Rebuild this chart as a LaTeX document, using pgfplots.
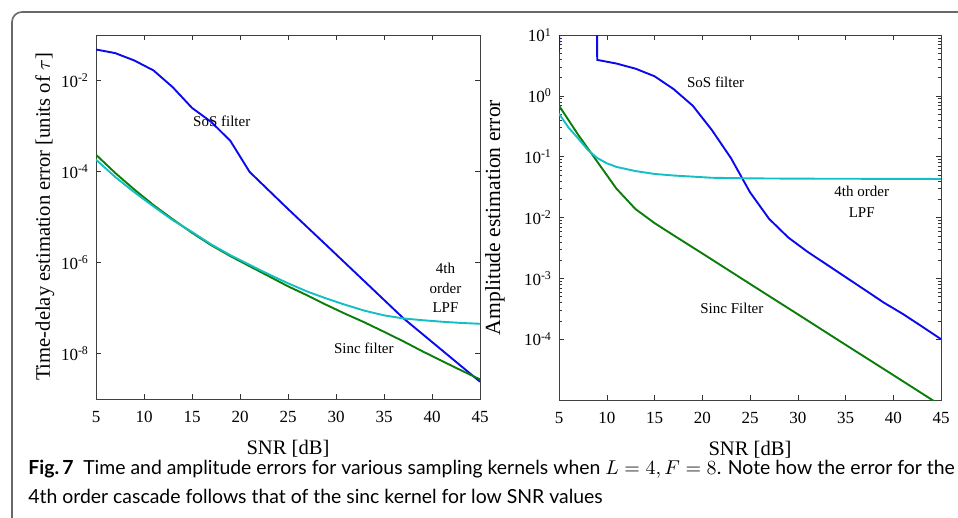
\documentclass[border=0pt]{standalone}
\usepackage{fontspec}
\setmainfont{Liberation Serif}
\newfontfamily\capfont{Lato}
\usepackage{pgfplots}
\pgfplotsset{compat=1.18}
\definecolor{sosblue}{RGB}{10,10,235}
\definecolor{sincgreen}{RGB}{10,125,10}
\definecolor{lpfcyan}{RGB}{20,190,195}
\definecolor{framegray}{RGB}{105,105,105}

\pgfplotsset{
  kernelaxis/.style={
    scale only axis,
    anchor=south west,
    xmin=5, xmax=45,
    xtick={5,10,...,45},
    xticklabel style={/pgf/number format/assume math mode=true, yshift=-2.5pt},
    tick label style={font=\fontsize{8.5}{10}\selectfont},
    label style={font=\fontsize{10.3}{12}\selectfont},
    xlabel={SNR [dB]},
    xlabel style={at={(axis description cs:0.5,0)}, yshift=-25pt, anchor=center, inner sep=0.5pt},
    major tick length=2.5pt,
    minor tick length=1.4pt,
    tick style={black!80},
    axis line style={black!75, line width=0.5pt},
    every axis plot/.append style={line width=0.95pt, no marks},
  }
}

\begin{document}
\begin{tikzpicture}
\useasboundingbox (0,0) rectangle (479pt,-259pt);
\draw[framegray, line width=0.8pt, rounded corners=5pt] (6pt,-262pt) -- (6pt,-6pt) -- (482pt,-6pt);

% left: time-delay error
\begin{axis}[kernelaxis,
  at={(48pt,-199.5pt)},
  width=192pt, height=182pt,
  ymode=log, ymin=1e-9, ymax=1e-1,
  ytick={1e-8,1e-6,1e-4,1e-2},
  yticklabels={10\textsuperscript{-8},10\textsuperscript{-6},10\textsuperscript{-4},10\textsuperscript{-2}},
  yminorticks=false,
  ylabel={Time-delay estimation error [units of $\tau$]},
  ylabel style={at={(axis description cs:-0.133,0.5)}, anchor=center},
]
\addplot[sosblue] coordinates {
(5,4.8e-2) (7,4.0e-2) (9,2.75e-2) (11,1.66e-2) (13,7.1e-3) (15,2.5e-3)
(17,1.23e-3) (19,4.7e-4) (21,9.8e-5) (25,1.5e-5) (29,2.4e-6) (33,3.8e-7)
(37,6.0e-8) (41,1.2e-8) (45,2.4e-9)};
\addplot[sincgreen] coordinates {
(5,2.34e-4) (7,9.3e-5) (9,4.0e-5) (11,1.82e-5) (13,8.9e-6) (15,4.5e-6)
(17,2.4e-6) (19,1.38e-6) (21,8.3e-7) (23,5.0e-7) (25,3.0e-7) (27,1.9e-7)
(29,1.17e-7) (31,7.4e-8) (33,4.8e-8) (35,3.0e-8) (37,1.86e-8) (39,1.12e-8)
(41,6.9e-9) (43,4.3e-9) (45,2.7e-9)};
\addplot[lpfcyan] coordinates {
(5,1.82e-4) (7,7.6e-5) (9,3.5e-5) (11,1.7e-5) (13,8.5e-6) (15,4.7e-6)
(17,2.5e-6) (19,1.45e-6) (21,8.9e-7) (23,5.5e-7) (25,3.5e-7) (27,2.3e-7)
(29,1.62e-7) (31,1.17e-7) (33,8.7e-8) (35,6.9e-8) (37,5.9e-8) (39,5.4e-8)
(41,5.0e-8) (43,4.7e-8) (45,4.5e-8)};
\node[font=\fontsize{7.5}{9}\selectfont] at (axis cs:18.1,1.3e-3) {SoS filter};
\node[font=\fontsize{7.5}{9.8}\selectfont, align=center] at (axis cs:41.4,2.75e-7) {4th\\order\\LPF};
\node[font=\fontsize{7.5}{9}\selectfont] at (axis cs:32.9,1.3e-8) {Sinc filter};
\end{axis}

% right: amplitude error
\begin{axis}[kernelaxis,
  at={(279.5pt,-200pt)},
  width=191pt, height=182.5pt,
  ymode=log, ymin=1e-5, ymax=10,
  ytick={1e-4,1e-3,1e-2,1e-1,1,10},
  yticklabels={10\textsuperscript{-4},10\textsuperscript{-3},10\textsuperscript{-2},10\textsuperscript{-1},10\textsuperscript{0},10\textsuperscript{1}},
  ylabel={Amplitude estimation error},
  ylabel style={at={(axis description cs:-0.1675,0.5)}, anchor=center, font=\fontsize{10.8}{12}\selectfont},
]
\addplot[sosblue] coordinates {
(5,5.2) (5.05,100) (8.98,100) (9,3.9) (11,3.4) (13,2.8) (15,2.1) (17,1.29)
(19,0.69) (21,0.275) (23,0.095) (25,0.026) (27,9.5e-3) (29,4.7e-3)
(31,2.75e-3) (33,1.7e-3) (35,1.05e-3) (37,6.5e-4) (39,4.0e-4) (41,2.6e-4)
(43,1.62e-4) (45,1.0e-4)};
\addplot[sincgreen] coordinates {
(5,0.69) (7,0.23) (9,0.083) (11,0.030) (13,0.0138) (15,8.1e-3) (17,5.1e-3)
(20,2.57e-3) (25,8.1e-4) (30,2.57e-4) (35,8.1e-5) (40,2.57e-5) (45,8.1e-6)};
\addplot[lpfcyan] coordinates {
(5,0.51) (6,0.30) (7,0.20) (8,0.13) (9,0.095) (10,0.078) (11,0.068) (13,0.058)
(15,0.052) (17,0.049) (19,0.047) (21,0.045) (25,0.044) (30,0.0435) (45,0.043)};
\node[font=\fontsize{7.5}{9}\selectfont] at (axis cs:21.4,1.7) {SoS filter};
\node[font=\fontsize{7.5}{10.5}\selectfont, align=center] at (axis cs:36.7,0.018) {4th order\\LPF};
\node[font=\fontsize{7.5}{9}\selectfont] at (axis cs:23.1,3.2e-4) {Sinc Filter};
\end{axis}

\node[anchor=base west, align=left, font=\capfont\fontsize{9.7}{14.5}\selectfont, inner sep=0pt]
  at (14pt,-251.5pt) {{\bfseries Fig.\,7}\enspace Time and amplitude errors for various sampling kernels when $L=4, F=8$. Note how the error for the\\
  4th order cascade follows that of the sinc kernel for low SNR values};
\end{tikzpicture}
\end{document}
